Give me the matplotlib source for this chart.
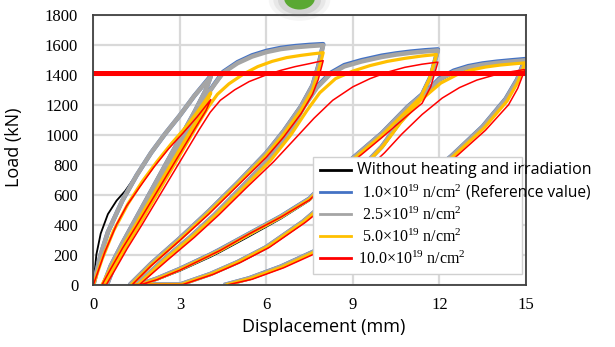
import matplotlib.pyplot as plt
from matplotlib.lines import Line2D
from matplotlib.patches import Ellipse

plt.rcParams['font.family'] = ['Liberation Serif', 'DejaVu Serif']
plt.rcParams['mathtext.fontset'] = 'custom'
plt.rcParams['mathtext.rm'] = 'Liberation Serif'
plt.rcParams['mathtext.it'] = 'Liberation Serif:italic'

# displacement (mm) / load (kN), full loading history of each case
# segments: envelope, unload 4, reload, unload 8, reload, unload 12, reload, unload 15
blue_x = [0, 0.25, 0.5, 1.0, 1.5, 2.0, 2.5, 3.0, 3.5, 4.07,
          3.9, 3.5, 3.0, 2.5, 2.0, 1.5, 1.0, 0.6, 0.35,
          0.47, 0.72, 1.12, 1.62, 2.12, 2.62, 3.12, 3.62, 3.95, 4.2, 4.5, 5.0, 5.5, 6.0, 6.5, 7.0, 7.5, 7.97,
          7.8, 7.6, 7.2, 6.6, 6.0, 5.0, 4.0, 3.0, 2.0, 1.27,
          1.5, 2.4, 3.35, 4.2, 5.15, 6.1, 6.8, 7.3, 7.75, 8.2, 8.7, 9.3, 10.0, 10.5, 11.0, 11.5, 11.95,
          11.7, 11.4, 10.9, 10.0, 9.0, 8.0, 7.5, 6.5, 5.4, 4.4, 4.05, 3.0, 2.2, 1.6,
          3.0, 4.05, 5.0, 6.0, 7.27, 8.0, 9.0, 10.0, 10.6, 11.3, 12.0, 12.5, 13.0, 13.5, 14.0, 14.5, 14.97,
          14.7, 14.3, 13.5, 12.4, 11.0, 10.0, 9.0, 7.76, 6.5, 5.4, 4.6]
blue_y = [0, 200, 350, 560, 730, 880, 1010, 1130, 1260, 1393,
          1300, 1150, 975, 800, 625, 450, 275, 125, 0,
          0, 125, 275, 450, 625, 800, 975, 1150, 1270, 1340, 1420, 1485, 1530, 1560, 1580, 1592, 1600, 1605,
          1460, 1330, 1190, 1025, 880, 680, 490, 310, 140, 0,
          0, 160, 315, 465, 650, 840, 1020, 1190, 1320, 1410, 1465, 1498, 1528, 1543, 1555, 1564, 1570,
          1390, 1270, 1187, 1010, 845, 675, 575, 455, 340, 235, 200, 105, 40, 0,
          0, 70, 150, 250, 420, 540, 720, 920, 1080, 1240, 1375, 1428, 1458, 1476, 1488, 1497, 1505,
          1370, 1240, 1055, 855, 640, 500, 370, 231, 120, 42, 0]

gray_x = blue_x
gray_y = [0, 200, 350, 560, 730, 880, 1010, 1130, 1260, 1388,
          1300, 1150, 975, 800, 625, 450, 275, 125, 0,
          0, 125, 275, 450, 625, 800, 975, 1150, 1268, 1336, 1414, 1478, 1522, 1552, 1572, 1584, 1592, 1598,
          1455, 1328, 1188, 1023, 878, 678, 489, 309, 139, 0,
          0, 160, 315, 465, 650, 840, 1018, 1186, 1314, 1402, 1456, 1489, 1519, 1535, 1547, 1556, 1563,
          1385, 1266, 1184, 1008, 843, 673, 573, 453, 338, 233, 198, 104, 40, 0,
          0, 70, 150, 250, 420, 540, 720, 920, 1078, 1236, 1368, 1420, 1450, 1468, 1480, 1489, 1497,
          1365, 1236, 1052, 853, 638, 498, 368, 230, 119, 41, 0]

black_x = [0, 0.1, 0.25, 0.5, 0.8, 1.1, 1.5, 2.0, 2.5, 3.0, 3.5, 4.07] + blue_x[10:]
black_y = [0, 200, 340, 470, 560, 625, 735, 880, 1010, 1130, 1260, 1390,
           1300, 1150, 975, 800, 625, 450, 275, 125, 0,
           0, 125, 275, 450, 625, 800, 975, 1150, 1268, 1336, 1414, 1478, 1522, 1552, 1572, 1584, 1592, 1598,
           1455, 1328, 1188, 1023, 878, 678, 489, 309, 139, 0,
           0, 160, 315, 465, 650, 840, 1018, 1186, 1314, 1402, 1456, 1489, 1519, 1535, 1547, 1556, 1563,
           1385, 1266, 1184, 1005, 838, 665, 562, 440, 322, 218, 184, 92, 32, 0,
           0, 70, 150, 250, 420, 540, 720, 920, 1075, 1230, 1360, 1412, 1442, 1459, 1471, 1481, 1490,
           1360, 1232, 1048, 850, 635, 495, 365, 227, 117, 40, 0]

yellow_x = [0, 0.3, 0.7, 1.2, 1.7, 2.2, 2.7, 3.2, 3.6, 4.07,
            3.9, 3.5, 3.0, 2.5, 2.0, 1.5, 1.0, 0.6, 0.3,
            0.42, 0.72, 1.12, 1.62, 2.12, 2.62, 3.12, 3.62, 4.0, 4.3, 4.7, 5.2, 5.7, 6.2, 6.7, 7.2, 7.6, 7.97,
            7.8, 7.6, 7.2, 6.6, 6.0, 5.0, 4.0, 3.0, 2.0, 1.32,
            1.55, 2.45, 3.4, 4.25, 5.2, 6.15, 6.85, 7.4, 7.85, 8.4, 9.0, 9.6, 10.2, 10.8, 11.4, 11.9,
            11.65, 11.35, 10.9, 10.0, 9.0, 8.0, 7.5, 6.5, 5.4, 4.4, 3.0, 2.2, 1.65,
            3.05, 4.1, 5.05, 6.05, 7.3, 8.05, 9.05, 10.05, 10.65, 11.35, 12.05, 12.6, 13.1, 13.6, 14.1, 14.6, 14.97,
            14.72, 14.35, 13.55, 12.45, 11.05, 10.05, 9.05, 7.8, 6.55, 5.45, 4.65]
yellow_y = [0, 170, 360, 540, 690, 820, 940, 1050, 1150, 1280,
            1200, 1070, 905, 740, 575, 410, 250, 110, 0,
            0, 110, 250, 410, 575, 740, 905, 1070, 1190, 1270, 1340, 1405, 1455, 1490, 1515, 1530, 1540, 1548,
            1420, 1300, 1165, 1005, 865, 670, 480, 300, 130, 0,
            0, 160, 315, 465, 645, 830, 1000, 1160, 1280, 1375, 1425, 1462, 1490, 1510, 1526, 1536,
            1370, 1250, 1165, 995, 835, 665, 570, 450, 335, 228, 100, 36, 0,
            0, 70, 152, 252, 420, 542, 723, 925, 1080, 1230, 1345, 1400, 1432, 1452, 1465, 1474, 1480,
            1350, 1225, 1045, 850, 636, 496, 366, 229, 117, 40, 0]

red_x = [0, 0.4, 0.8, 1.15, 1.6, 2.1, 2.6, 3.1, 3.6, 4.07,
         3.9, 3.5, 3.0, 2.5, 2.0, 1.5, 1.0, 0.6, 0.3,
         0.45, 0.77, 1.17, 1.67, 2.17, 2.67, 3.17, 3.67, 4.05, 4.4, 4.9, 5.4, 6.0, 6.5, 7.0, 7.5, 7.97,
         7.8, 7.6, 7.2, 6.6, 6.0, 5.0, 4.0, 3.0, 2.0, 1.35,
         1.6, 2.55, 3.5, 4.35, 5.3, 6.25, 7.0, 7.65, 8.3, 9.0, 9.6, 10.2, 10.8, 11.4, 11.95,
         11.7, 11.4, 10.9, 10.0, 9.0, 8.0, 7.5, 6.5, 5.4, 4.4, 3.0, 2.2, 1.65,
         3.1, 4.15, 5.1, 6.1, 7.35, 8.1, 9.1, 10.1, 10.7, 11.4, 12.1, 12.7, 13.3, 13.9, 14.4, 14.97,
         14.72, 14.4, 13.6, 12.5, 11.1, 10.1, 9.1, 7.9, 6.6, 5.5, 4.7]
red_y = [0, 220, 400, 525, 650, 785, 905, 1010, 1120, 1235,
         1160, 1035, 875, 715, 555, 395, 240, 105, 0,
         0, 105, 240, 395, 555, 715, 875, 1035, 1150, 1230, 1300, 1355, 1400, 1430, 1455, 1475, 1495,
         1370, 1270, 1140, 985, 850, 660, 470, 295, 125, 0,
         0, 160, 315, 465, 645, 820, 975, 1110, 1230, 1320, 1375, 1418, 1450, 1471, 1485,
         1320, 1210, 1130, 980, 820, 660, 565, 450, 338, 228, 96, 32, 0,
         0, 68, 148, 248, 415, 530, 700, 880, 1005, 1135, 1245, 1315, 1365, 1398, 1418, 1436,
         1310, 1200, 1030, 840, 630, 490, 360, 225, 112, 35, 0]

ref_load = 1415
x_ticks = [0, 3, 6, 9, 12, 15]
y_ticks = list(range(0, 1801, 200))

labels = ['Without heating and irradiation',
          ' 1.0×10$^{19}$ n/cm$^{2}$',
          ' 2.5×10$^{19}$ n/cm$^{2}$',
          ' 5.0×10$^{19}$ n/cm$^{2}$',
          '10.0×10$^{19}$ n/cm$^{2}$']
colors = ['#000000', '#4472C4', '#A5A5A5', '#FFC000', '#FF0000']

fig = plt.figure(figsize=(6.15, 3.47), dpi=100)
ax = fig.add_axes([0.152, 0.18, 0.703, 0.777])

ax.plot(black_x, black_y, color=colors[0], lw=1.3)
ax.plot(blue_x, blue_y, color=colors[1], lw=3.2)
ax.plot(gray_x, gray_y, color=colors[2], lw=3.2)
ax.plot(yellow_x, yellow_y, color=colors[3], lw=2.3)
ax.plot(red_x, red_y, color=colors[4], lw=1.1)
ax.plot([0, 15], [ref_load, ref_load], color='#FF0000', lw=3.6)

ax.set_xlim(0, 15)
ax.set_ylim(0, 1800)
ax.set_xticks(x_ticks)
ax.set_yticks(y_ticks)
ax.grid(True, color='#d9d9d9', lw=1.6)
ax.set_axisbelow(True)
ax.tick_params(length=0, labelsize=12, labelfontfamily='Liberation Serif')
ax.tick_params(axis='x', pad=9)
ax.tick_params(axis='y', pad=11)
for sp in ax.spines.values():
    sp.set_color('#404040')
    sp.set_linewidth(1.3)

ax.set_xlabel('Displacement (mm)', fontfamily='Open Sans', fontsize=13)
ax.set_ylabel('Load (kN)', fontfamily='Open Sans', fontsize=13)
ax.xaxis.set_label_coords(0.533, -0.125)
ax.yaxis.set_label_coords(-0.163, 0.51)

handles = [Line2D([], [], color=c, lw=2) for c in colors]
leg = ax.legend(handles, [' '] + labels[1:], loc='upper left',
                bbox_to_anchor=(0.508, 0.035, 0.482, 0.437), mode='expand',
                prop={'family': 'Liberation Serif', 'size': 11.5},
                frameon=True, fancybox=False, framealpha=1, edgecolor='#d0d0d0',
                handlelength=2.0, handletextpad=0.4, labelspacing=0.3, borderpad=0.4,
                borderaxespad=0)
leg.get_frame().set_linewidth(1.0)

ax.text(0.609, 0.425, labels[0], transform=ax.transAxes, fontfamily='Open Sans',
        fontsize=11.5, va='center', ha='left', zorder=10, clip_on=False)
ax.text(0.862, 0.343, '(Reference value)', transform=ax.transAxes, fontfamily='Open Sans',
        fontsize=11.2, va='center', ha='left', zorder=10, clip_on=False)

# green marker peeking in at the top edge
for w, h, a in [(0.1, 0.12, 0.08), (0.085, 0.1, 0.12), (0.07, 0.085, 0.18)]:
    fig.add_artist(Ellipse((0.487, 1.0), w, h, transform=fig.transFigure,
                           color='#888888', alpha=a, lw=0))
fig.add_artist(Ellipse((0.487, 1.005), 0.05, 0.065, transform=fig.transFigure,
                       color='#5aa832', lw=0))

fig.savefig('out.png', dpi=100)
